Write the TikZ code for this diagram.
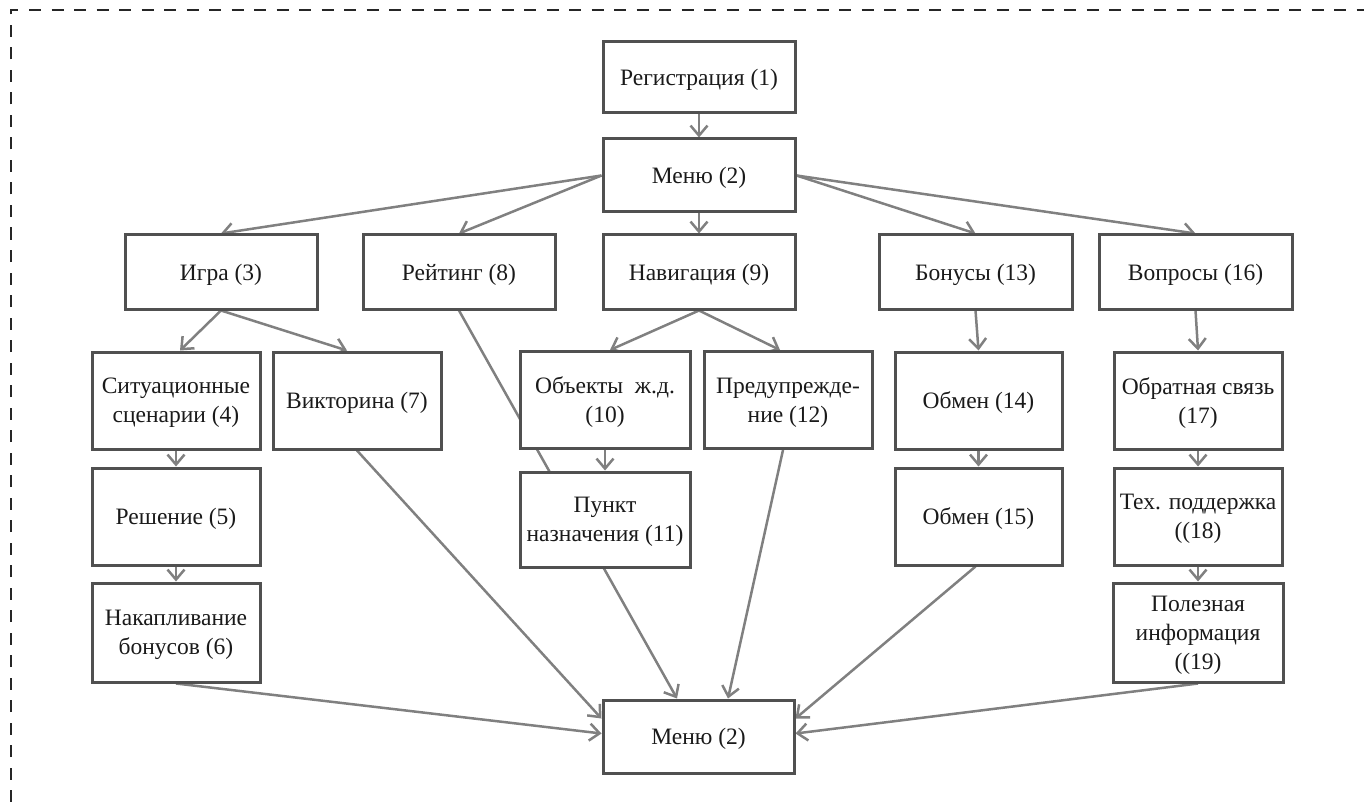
\documentclass[tikz,border=0pt]{standalone}
\usepackage{fontspec}
\setmainfont{Liberation Serif}
\usetikzlibrary{arrows.meta,calc}
\pgfdeclarelayer{background}
\pgfsetlayers{background,main}
\definecolor{boxc}{HTML}{505050}
\definecolor{linec}{HTML}{808080}
\definecolor{txtc}{HTML}{1A1A1A}
\tikzset{
  box/.style={draw=boxc, line width=3pt, fill=white, align=center, inner sep=0pt,
    text=txtc, text depth=0pt, font=\fontsize{23.5}{29}\selectfont},
  conn/.style={draw=linec, line width=2.5pt, -{Straight Barb[length=10pt,width=17pt]}},
  frame/.style={draw=black!85, line width=1.5pt, dash pattern=on 12pt off 10.5pt}
}
\begin{document}
\begin{tikzpicture}[x=1pt,y=-1pt]
\useasboundingbox (0,0) rectangle (1364,802);
\draw[frame] (11,802) -- (11,10) -- (1364,10);

\node[box, minimum width=192pt, minimum height=71pt] (n1) at (699,77.5) {Регистрация (1)};
\node[box, minimum width=192pt, minimum height=73pt] (n2) at (699,175.5) {Меню (2)};

\node[box, minimum width=192pt, minimum height=74pt] (n3) at (221,272) {Игра (3)};
\node[box, minimum width=192pt, minimum height=74pt] (n8) at (459,272) {Рейтинг (8)};
\node[box, minimum width=192pt, minimum height=74pt] (n9) at (699,272) {Навигация (9)};
\node[box, minimum width=193pt, minimum height=74pt] (n13) at (975.5,272) {Бонусы (13)};
\node[box, minimum width=193pt, minimum height=74pt] (n16) at (1195.5,272) {Вопросы (16)};

\node[box, minimum width=168pt, minimum height=97pt] (n4) at (176,400.5) {Ситуационные\\сценарии (4)};
\node[box, minimum width=168pt, minimum height=97pt] (n7) at (357,400.5) {Викторина (7)};
\node[box, minimum width=170pt, minimum height=97pt] (n10) at (605,400) {Объекты\ \ ж.д.\\(10)};
\node[box, minimum width=168pt, minimum height=97pt] (n12) at (788,400) {Предупрежде-\\ние (12)};
\node[box, minimum width=167pt, minimum height=97pt] (n14) at (978.5,400.5) {Обмен (14)};
\node[box, minimum width=168pt, minimum height=97pt] (n17) at (1198,400.5) {Обратная связь\\(17)};

\node[box, minimum width=168pt, minimum height=97pt] (n5) at (176,516.5) {Решение (5)};
\node[box, minimum width=170pt, minimum height=95pt] (n11) at (605,519.5) {Пункт\\назначения (11)};
\node[box, minimum width=167pt, minimum height=97pt] (n15) at (978.5,516.5) {Обмен (15)};
\node[box, minimum width=168pt, minimum height=97pt] (n18) at (1198,516.5) {Тех. поддержка\\((18)};

\node[box, minimum width=168pt, minimum height=99pt] (n6) at (176,632.5) {Накапливание\\бонусов (6)};
\node[box, minimum width=170pt, minimum height=99pt] (n19) at (1198,632.5) {Полезная\\информация\\((19)};

\node[box, minimum width=191pt, minimum height=73pt] (n2b) at (698.5,736.5) {Меню (2)};

\begin{pgfonlayer}{background}
\draw[conn] (n1.south) -- (n2.north);
\draw[conn] (n2.west) -- (n3.north);
\draw[conn] (n2.west) -- (n8.north);
\draw[conn] (n2.south) -- (n9.north);
\draw[conn] (n2.east) -- (n13.north);
\draw[conn] (n2.east) -- (n16.north);

\draw[conn] (n3.south) -- ([xshift=4pt]n4.north);
\draw[conn] (n3.south) -- ([xshift=-10pt]n7.north);
\draw[conn] (n4.south) -- (n5.north);
\draw[conn] (n5.south) -- (n6.north);

\draw[conn] (n9.south) -- ([xshift=5pt]n10.north);
\draw[conn] (n9.south) -- ([xshift=-8pt]n12.north);
\draw[conn] (n10.south) -- (n11.north);

\draw[conn] (n13.south) -- (n14.north);
\draw[conn] (n14.south) -- (n15.north);
\draw[conn] (n16.south) -- (n17.north);
\draw[conn] (n17.south) -- (n18.north);
\draw[conn] (n18.south) -- (n19.north);

\draw[conn] (n6.south) -- ([yshift=3pt]n2b.west);
\draw[conn] (n7.south) -- ([yshift=18pt]n2b.west);
\draw[conn] (n8.south) -- ([xshift=-21.5pt]n2b.north);
\draw[conn] ([xshift=-5pt]n12.south) -- ([xshift=29.5pt]n2b.north);
\draw[conn] ([xshift=-3pt]n15.south) -- ([yshift=18pt]n2b.east);
\draw[conn] (n19.south) -- ([yshift=3pt]n2b.east);
\end{pgfonlayer}
\end{tikzpicture}
\end{document}
